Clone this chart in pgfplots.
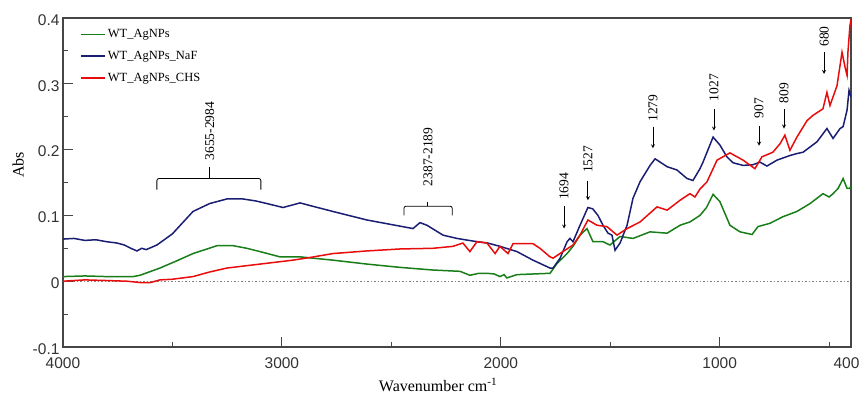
\documentclass[border=0pt]{standalone}
\usepackage{fontspec}
\setmainfont{Liberation Serif}
\newfontfamily\arialfont{Liberation Sans}
\usepackage{pgfplots}
\pgfplotsset{compat=1.18}
\definecolor{cgreen}{RGB}{25,125,25}
\definecolor{cblue}{RGB}{25,30,115}
\definecolor{cred}{RGB}{232,12,12}
\definecolor{axgray}{RGB}{70,70,70}
\begin{document}
\begin{tikzpicture}
\useasboundingbox (-63pt,-52pt) rectangle (798pt,347pt);
\begin{axis}[
 scale only axis, width=788pt, height=329pt,
 x dir=reverse, xmin=400, xmax=4000, ymin=-0.1, ymax=0.4,
 xtick={4000,3000,2000,1000,400}, xticklabels={4000,3000,2000,1000,{\kern-9pt 400}},
 minor xtick={3500,2500,1500,500},
 ytick={-0.1,0,0.1,0.2,0.3,0.4}, yticklabels={-0.1,0,0.1,0.2,0.3,0.4},
 minor ytick={-0.05,0.05,0.15,0.25,0.35},
 xtick pos=lower, ytick pos=left,
 tick align=inside,
 major tick length=10pt, minor tick length=5pt,
 tick style={axgray, line width=1pt},
 axis line style={axgray, line width=1.3pt},
 tick label style={font=\arialfont\fontsize{15.5}{15.5}\selectfont, text=black!80},
 xticklabel style={yshift=-7pt},
 yticklabel style={yshift=-2pt},
 xlabel={Wavenumber cm\textsuperscript{-1}},
 ylabel={Abs},
 xlabel style={font=\fontsize{16}{16}\selectfont, at={(axis description cs:0.476,-0.115)}, anchor=center},
 ylabel style={font=\fontsize{16}{16}\selectfont, at={(axis description cs:-0.057,0.553)}, anchor=center},
 legend style={at={(axis description cs:0.018,0.978)}, anchor=north west, draw=none, fill=none,
   font=\fontsize{12.5}{12.5}\selectfont, row sep=8pt},
 legend cell align=left,
 legend image code/.code={\draw[#1] (0pt,0pt) -- (24pt,0pt);},
 every axis plot/.append style={line width=1.5pt},
]
\addplot[gray, dotted, line width=0.6pt, forget plot] coordinates {(4000,0) (400,0)};

\addplot[cgreen] coordinates {
(4000,0.007)(3900,0.008)(3800,0.007)(3680,0.007)(3648,0.009)(3557,0.020)(3480,0.031)(3406,0.042)
(3296,0.054)(3223,0.054)(3160,0.050)(3100,0.045)(3009,0.037)(2917,0.037)(2767,0.032)(2611,0.026)
(2460,0.021)(2310,0.017)(2186,0.015)(2141,0.009)(2100,0.012)(2063,0.012)(2030,0.011)(2004,0.007)
(1985,0.010)(1972,0.005)(1926,0.010)(1850,0.011)(1775,0.012)(1743,0.027)(1697,0.042)(1670,0.053)
(1638,0.070)(1606,0.080)(1579,0.060)(1533,0.060)(1501,0.055)(1455,0.068)(1396,0.065)(1318,0.075)
(1240,0.073)(1181,0.085)(1136,0.090)(1090,0.100)(1060,0.112)(1030,0.132)(999,0.121)(953,0.085)
(907,0.075)(852,0.071)(825,0.083)(770,0.088)(711,0.098)(647,0.106)(587,0.118)(528,0.133)
(500,0.128)(482,0.133)(459,0.141)(436,0.156)(418,0.141)(405,0.141)(400,0.145)};
\addlegendentry{WT\_AgNPs}

\addplot[cblue] coordinates {
(4000,0.064)(3950,0.065)(3900,0.062)(3850,0.063)(3800,0.060)(3753,0.058)(3720,0.055)(3690,0.050)
(3662,0.046)(3640,0.050)(3620,0.048)(3571,0.055)(3500,0.072)(3406,0.106)(3330,0.118)(3251,0.125)
(3178,0.125)(3120,0.122)(3068,0.118)(2995,0.112)(2950,0.116)(2917,0.119)(2872,0.115)(2767,0.106)
(2611,0.093)(2401,0.080)(2369,0.089)(2337,0.085)(2264,0.070)(2200,0.065)(2127,0.061)(2060,0.058)
(2004,0.053)(1926,0.045)(1853,0.032)(1775,0.020)(1761,0.020)(1729,0.035)(1697,0.060)(1684,0.065)
(1670,0.060)(1638,0.085)(1602,0.112)(1580,0.110)(1556,0.100)(1533,0.085)(1510,0.073)(1492,0.070)
(1478,0.047)(1455,0.058)(1423,0.085)(1396,0.126)(1364,0.151)(1318,0.176)(1295,0.186)(1240,0.174)
(1195,0.169)(1149,0.156)(1122,0.153)(1090,0.171)(1076,0.181)(1030,0.219)(999,0.207)(967,0.189)
(939,0.180)(893,0.176)(848,0.177)(816,0.181)(784,0.175)(738,0.184)(679,0.191)(647,0.194)
(619,0.196)(587,0.204)(555,0.212)(510,0.232)(482,0.217)(450,0.232)(436,0.235)(418,0.260)
(409,0.290)(400,0.280)};
\addlegendentry{WT\_AgNPs\_NaF}

\addplot[cred] coordinates {
(4000,0.000)(3900,0.002)(3800,0.001)(3708,0.000)(3648,-0.002)(3600,-0.002)(3557,0.002)(3500,0.003)
(3406,0.007)(3330,0.014)(3251,0.020)(3100,0.026)(2949,0.032)(2872,0.036)(2767,0.042)(2611,0.046)
(2460,0.049)(2310,0.050)(2218,0.053)(2173,0.058)(2141,0.045)(2109,0.060)(2063,0.058)(2026,0.042)
(2004,0.053)(1967,0.042)(1944,0.057)(1853,0.057)(1821,0.050)(1775,0.037)(1761,0.035)(1716,0.045)
(1670,0.055)(1638,0.070)(1602,0.093)(1560,0.085)(1515,0.083)(1469,0.070)(1423,0.080)(1364,0.090)
(1286,0.113)(1240,0.108)(1181,0.123)(1136,0.133)(1113,0.128)(1090,0.140)(1058,0.151)(1012,0.184)
(953,0.195)(893,0.184)(839,0.171)(807,0.189)(757,0.196)(724,0.209)(702,0.222)(679,0.199)
(647,0.219)(601,0.244)(574,0.252)(528,0.262)(510,0.287)(496,0.267)(464,0.297)(441,0.348)
(427,0.325)(418,0.313)(414,0.348)(405,0.388)(400,0.398)};
\addlegendentry{WT\_AgNPs\_CHS}

% annotations
\begin{scope}[font=\fontsize{13.5}{13.5}\selectfont, line width=0.8pt]
\draw[rounded corners=2pt] (axis cs:3571,0.139) -- (axis cs:3571,0.156) -- (axis cs:3096,0.156) -- (axis cs:3096,0.139);
\draw (axis cs:3333,0.156) -- (axis cs:3333,0.174);
\node[rotate=90, anchor=west, inner sep=0pt] at (axis cs:3330,0.183) {3655-2984};
\draw[rounded corners=2pt] (axis cs:2442,0.100) -- (axis cs:2442,0.114) -- (axis cs:2222,0.114) -- (axis cs:2222,0.100);
\draw (axis cs:2333,0.114) -- (axis cs:2333,0.120);
\node[rotate=90, anchor=west, inner sep=0pt] at (axis cs:2333,0.144) {2387-2189};
\draw[-stealth] (axis cs:1711,0.114) -- (axis cs:1711,0.080);
\node[rotate=90, anchor=west, inner sep=0pt] at (axis cs:1711,0.123) {1694};
\draw[-stealth] (axis cs:1602,0.153) -- (axis cs:1602,0.123);
\node[rotate=90, anchor=west, inner sep=0pt] at (axis cs:1602,0.164) {1527};
\draw[-stealth] (axis cs:1305,0.235) -- (axis cs:1305,0.202);
\node[rotate=90, anchor=west, inner sep=0pt] at (axis cs:1305,0.242) {1279};
\draw[-stealth] (axis cs:1026,0.262) -- (axis cs:1026,0.229);
\node[rotate=90, anchor=west, inner sep=0pt] at (axis cs:1026,0.273) {1027};
\draw[-stealth] (axis cs:820,0.236) -- (axis cs:820,0.206);
\node[rotate=90, anchor=west, inner sep=0pt] at (axis cs:820,0.247) {907};
\draw[-stealth] (axis cs:706,0.262) -- (axis cs:706,0.232);
\node[rotate=90, anchor=west, inner sep=0pt] at (axis cs:706,0.270) {809};
\draw[-stealth] (axis cs:523,0.348) -- (axis cs:523,0.315);
\node[rotate=90, anchor=west, inner sep=0pt] at (axis cs:523,0.356) {680};
\end{scope}
\end{axis}
\end{tikzpicture}
\end{document}
